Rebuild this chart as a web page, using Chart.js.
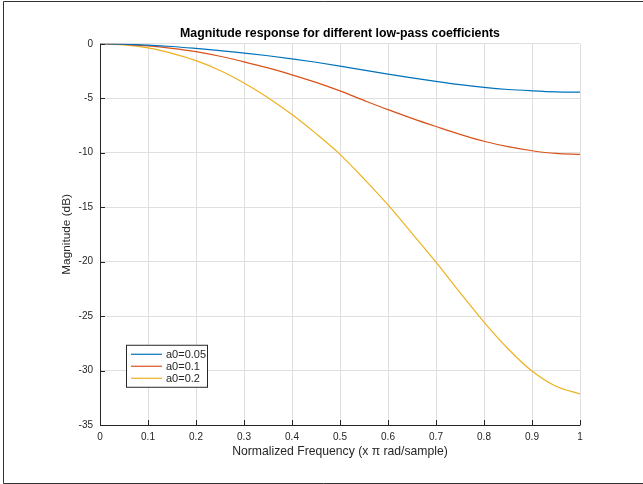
<!DOCTYPE html>
<html>
<head>
<meta charset="utf-8">
<script src="https://cdn.jsdelivr.net/npm/chart.js@4.4.0/dist/chart.umd.min.js"></script>
<style>
  body { margin: 0; background: #fff; }
  #wrap { width: 643px; height: 484px; position: relative; }
</style>
</head>
<body>
<div id="wrap"><canvas id="magChart" width="643" height="484"></canvas></div>
<script>
  // normalized frequency (x pi rad/sample)
  const freq = [0, 0.05, 0.1, 0.15, 0.2, 0.25, 0.3, 0.35, 0.4, 0.45, 0.5,
    0.55, 0.6, 0.65, 0.7, 0.75, 0.8, 0.85, 0.9, 0.95, 1];
  // magnitude in dB
  const magA005 = [0, -0.03, -0.12, -0.25, -0.43, -0.63, -0.86, -1.1, -1.38, -1.7, -2.05,
    -2.42, -2.78, -3.13, -3.46, -3.76, -4.01, -4.2, -4.32, -4.41, -4.44];
  const magA01 = [0, -0.05, -0.19, -0.42, -0.73, -1.15, -1.66, -2.22, -2.85, -3.55, -4.33,
    -5.2, -6.05, -6.85, -7.6, -8.32, -8.95, -9.45, -9.82, -10.07, -10.16];
  const magA02 = [0, -0.1, -0.38, -0.88, -1.55, -2.45, -3.6, -4.95, -6.5, -8.25, -10.15,
    -12.4, -14.8, -17.4, -20.05, -22.85, -25.55, -28.0, -30.05, -31.45, -32.15];
  const seriesLabels = ["a0=0.05", "a0=0.1", "a0=0.2"];
  const seriesColors = ["#0072BD", "#D95319", "#EDB120"];
  const xTicks = [0, 0.1, 0.2, 0.3, 0.4, 0.5, 0.6, 0.7, 0.8, 0.9, 1];
  const yTicks = [0, -5, -10, -15, -20, -25, -30, -35];

  const fontFam = "'Liberation Sans', Arial, Helvetica, sans-serif";
  const ink = "#262626";
  const gridCol = "#dfdfdf";

  const toPoints = (ys) => ys.map((v, i) => ({ x: freq[i], y: v }));

  // inward ticks, dark left/bottom axes, figure frame
  const axesFrame = {
    id: "axesFrame",
    afterDatasetsDraw(chart) {
      const { ctx, chartArea: a, scales: { x, y } } = chart;
      ctx.save();
      ctx.strokeStyle = ink;
      ctx.lineWidth = 1;
      ctx.beginPath();
      ctx.moveTo(a.left + 0.5, a.top);
      ctx.lineTo(a.left + 0.5, a.bottom + 0.5);
      ctx.lineTo(a.right + 0.5, a.bottom + 0.5);
      x.ticks.forEach((t) => {
        const px = Math.round(x.getPixelForValue(t.value)) + 0.5;
        ctx.moveTo(px, a.bottom);
        ctx.lineTo(px, a.bottom - 5);
      });
      y.ticks.forEach((t) => {
        const py = Math.round(y.getPixelForValue(t.value)) + 0.5;
        ctx.moveTo(a.left, py);
        ctx.lineTo(a.left + 5, py);
      });
      ctx.stroke();

      // outer figure frame
      ctx.strokeStyle = "#333";
      ctx.beginPath();
      ctx.moveTo(chart.width, 1.5);
      ctx.lineTo(3.5, 1.5);
      ctx.lineTo(3.5, 483.5);
      ctx.lineTo(chart.width, 483.5);
      ctx.stroke();
      ctx.restore();
    },
  };

  // MATLAB style legend box in lower left of the axes
  const boxLegend = {
    id: "boxLegend",
    afterDraw(chart) {
      const { ctx, chartArea: a } = chart;
      const left = a.left + 26, top = a.top + 301;
      const w = 81, h = 42;
      ctx.save();
      ctx.fillStyle = "#fff";
      ctx.fillRect(left, top, w, h);
      ctx.strokeStyle = ink;
      ctx.lineWidth = 1;
      ctx.strokeRect(left + 0.5, top + 0.5, w, h);
      ctx.font = "11px " + fontFam;
      ctx.textBaseline = "middle";
      chart.data.datasets.forEach((ds, i) => {
        const ry = top + 9.5 + i * 12;
        ctx.strokeStyle = ds.borderColor;
        ctx.lineWidth = 1.2;
        ctx.beginPath();
        ctx.moveTo(left + 5, ry);
        ctx.lineTo(left + 36, ry);
        ctx.stroke();
        ctx.fillStyle = ink;
        ctx.fillText(ds.label, left + 40, ry + 0.5);
      });
      ctx.restore();
    },
  };

  const magChart = new Chart(document.getElementById("magChart"), {
    type: "line",
    data: {
      datasets: [
        { label: seriesLabels[0], data: toPoints(magA005), borderColor: seriesColors[0] },
        { label: seriesLabels[1], data: toPoints(magA01), borderColor: seriesColors[1] },
        { label: seriesLabels[2], data: toPoints(magA02), borderColor: seriesColors[2] },
      ],
    },
    options: {
      responsive: false,
      animation: false,
      devicePixelRatio: 1,
      layout: {
        padding: { left: 0, right: 63, top: 0, bottom: 0 },
      },
      elements: {
        point: { radius: 0 },
        line: { borderWidth: 1.2, cubicInterpolationMode: "monotone" },
      },
      scales: {
        x: {
          type: "linear",
          min: 0,
          max: 1,
          afterBuildTicks: (axis) => { axis.ticks = xTicks.map((v) => ({ value: v })); },
          afterFit: (axis) => { axis.height = 59; },
          border: { display: false },
          grid: { color: gridCol, drawTicks: false },
          ticks: {
            padding: 6,
            color: ink,
            font: { family: fontFam, size: 10 },
            maxRotation: 0,
            callback: (v) => String(v),
          },
          title: {
            display: true,
            text: "Normalized Frequency (x \u03c0 rad/sample)",
            color: ink,
            font: { family: fontFam, size: 12.2 },
            padding: { top: 0, bottom: 25 },
          },
        },
        y: {
          type: "linear",
          min: -35,
          max: 0,
          afterBuildTicks: (axis) => { axis.ticks = yTicks.map((v) => ({ value: v })); },
          afterFit: (axis) => { axis.width = 100; },
          border: { display: false },
          grid: { color: gridCol, drawTicks: false },
          ticks: {
            padding: 7,
            color: ink,
            font: { family: fontFam, size: 10 },
          },
          title: {
            display: true,
            text: "Magnitude (dB)",
            color: ink,
            font: { family: fontFam, size: 11.8 },
            padding: { top: 60, bottom: 0 },
          },
        },
      },
      plugins: {
        legend: { display: false },
        tooltip: { enabled: false },
        title: {
          display: true,
          fullSize: false,
          text: "Magnitude response for different low-pass coefficients",
          color: "#000",
          font: { family: fontFam, size: 12.3, weight: "bold" },
          padding: { top: 26, bottom: 3 },
        },
      },
    },
    plugins: [axesFrame, boxLegend],
  });
</script>
</body>
</html>
